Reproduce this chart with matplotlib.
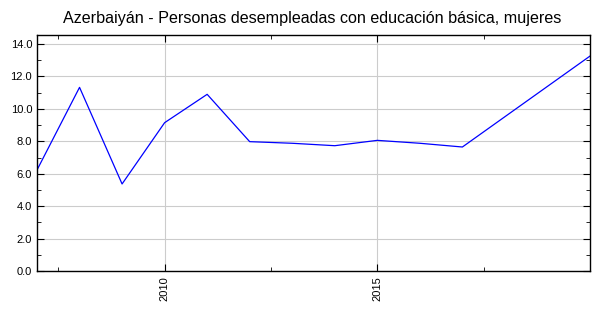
import matplotlib
matplotlib.use("Agg")
import matplotlib.pyplot as plt
from matplotlib.ticker import MultipleLocator, FormatStrFormatter, FixedLocator

years = [2007, 2008, 2009, 2010, 2011, 2012, 2013, 2014, 2015, 2016, 2017, 2020]
values = [6.23, 11.33, 5.37, 9.15, 10.9, 7.98, 7.88, 7.73, 8.06, 7.88, 7.65, 13.26]
xticks = [2010, 2015]
title = "Azerbaiyán - Personas desempleadas con educación básica, mujeres"

plt.rcParams['font.family'] = ['Liberation Sans', 'DejaVu Sans']
fig = plt.figure(figsize=(6, 3.15), dpi=100)
ax = fig.add_axes([37/600, 44/315, 553/600, 236/315])
ax.plot(years, values, color='#0000ff', linewidth=0.9)
ax.set_xlim(2007, 2020)
ax.set_ylim(0, 14.56)
ax.xaxis.set_major_locator(FixedLocator(xticks))
ax.xaxis.set_minor_locator(MultipleLocator(2.5))
ax.yaxis.set_major_locator(MultipleLocator(2))
ax.yaxis.set_minor_locator(MultipleLocator(1))
ax.yaxis.set_major_formatter(FormatStrFormatter('%.1f'))
ax.grid(True, which='major', color='#cccccc', linewidth=0.8)
ax.set_axisbelow(True)
ax.tick_params(which='both', direction='in', top=True, right=True, labelsize=8, colors='black')
ax.tick_params(which='major', length=5)
ax.tick_params(which='minor', length=3)
for lab in ax.get_xticklabels():
    lab.set_rotation(90)
for s in ax.spines.values():
    s.set_linewidth(1.0)
fig.text(312/600, 1 - 19/315, title, ha='center', va='center', fontsize=11.6)
fig.savefig("out.png", dpi=100)
